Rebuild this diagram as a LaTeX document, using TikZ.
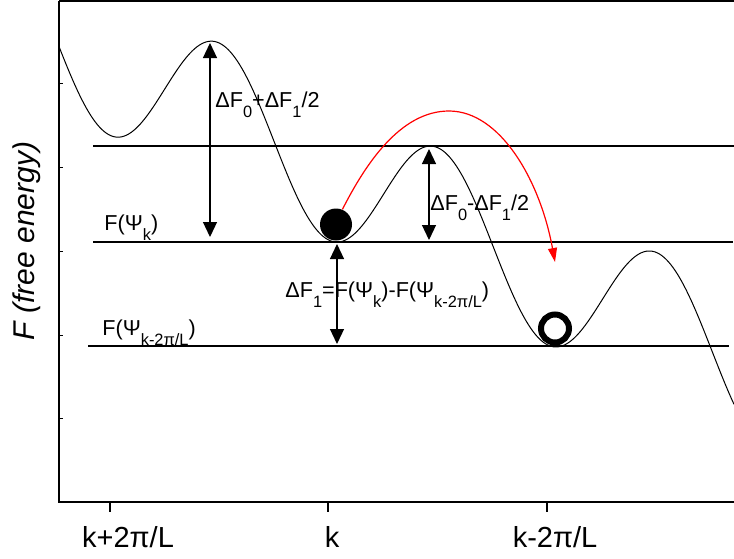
\documentclass[tikz,border=0pt]{standalone}
\usepackage{fontspec}
\setmainfont{Liberation Sans}
\usetikzlibrary{arrows.meta}
\newcommand{\dn}[1]{\raisebox{-5pt}{\fontsize{8.2}{9}\selectfont #1}}

\begin{document}
\begin{tikzpicture}[
  x=0.5pt, y=-0.5pt,
  axis/.style={line width=1pt, black},
  level/.style={line width=0.6pt, black},
  landscape/.style={line width=0.5pt, black},
  gap/.style={{Triangle[length=7.5pt,width=7pt]}-{Triangle[length=7.5pt,width=7pt]}, line width=0.6pt},
  hop/.style={-{Triangle[length=7pt,width=4.5pt]}, line width=0.6pt, red},
  lbl/.style={font=\fontsize{10.8}{12}\selectfont, inner sep=0pt, anchor=base west},
  ticklbl/.style={font=\fontsize{14.5}{16}\selectfont, inner sep=0pt, anchor=base},
]
\useasboundingbox (0,0) rectangle (734,558);

% frame and ticks
\draw[line width=0.75pt] (59,1) -- (734,1);
\draw[axis] (59,1) -- (59,502) -- (734,502);
\foreach \ty in {83,167,251,335,418}
  \draw[line width=0.5pt] (59,\ty) -- (63,\ty);
\foreach \tx in {110,328,547}
  \draw[line width=0.6pt] (\tx,502) -- (\tx,512);
\node[ticklbl] (kplus) at (128,547) {k+2π/L};
\node[ticklbl] (kzero) at (332,547) {k};
\node[ticklbl] (kminus) at (555,547) {k-2π/L};
\node[rotate=90, font=\fontsize{15}{17}\selectfont\itshape] (ylab) at (27,241) {F (free energy)};

% energy levels
\draw[level] (93,146) -- (734,146);
\draw[level] (93,242) -- (733,242);
\draw[level] (88,346) -- (729,346);
\node[lbl] (fk) at (104,230) {F(Ψ\dn{k})};
\node[lbl] (fk2) at (102,335) {F(Ψ\dn{k-2π/L})};

% tilted washboard
\draw[landscape] plot[domain=59:734, samples=300]
  (\x, {10.3 + 0.479*\x + 72.3*cos(((\x-328.9)/219)*360)});

% states
\node[circle, fill=black, minimum size=16pt, inner sep=0pt] (ball) at (336,224.5) {};
\node[circle, draw=black, line width=3pt, minimum size=14pt, inner sep=0pt] (ring) at (555,328.5) {};

% barriers
\coordinate (barA) at (210,43);
\coordinate (barAb) at (210,237);
\coordinate (barB) at (429,149);
\coordinate (barBb) at (429,240);
\coordinate (stepA) at (337,244);
\coordinate (stepB) at (337,344);
\draw[gap] (barA) -- (barAb);
\draw[gap] (barB) -- (barBb);
\draw[gap] (stepA) -- (stepB);
\node[lbl] (dfup) at (215,107) {ΔF\dn{0}+ΔF\dn{1}/2};
\node[lbl] (dfdown) at (430,210) {ΔF\dn{0}-ΔF\dn{1}/2};
\node[lbl] (dfone) at (285,297) {ΔF\dn{1}=F(Ψ\dn{k})-F(Ψ\dn{k-2π/L})};

% jump over the barrier
\coordinate (land) at (555,262);
\draw[hop] (ball.67) .. controls (365,165) and (400,111) .. (449,111)
  .. controls (500,111) and (540,180) .. (land);
\end{tikzpicture}
\end{document}
